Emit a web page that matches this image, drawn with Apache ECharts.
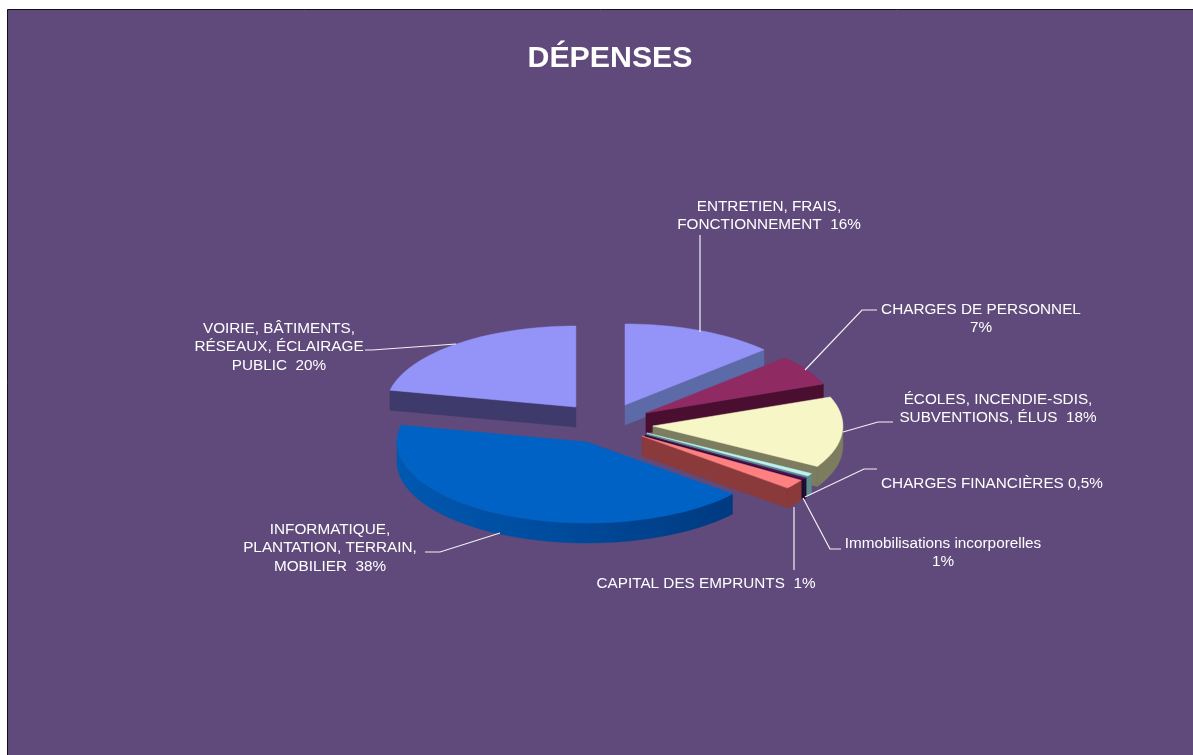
<!DOCTYPE html>
<html>
<head>
<meta charset="utf-8">
<style>html,body{margin:0;padding:0;background:#fff}#chart{width:1193px;height:755px}</style>
<script src="https://cdn.jsdelivr.net/npm/echarts@6/dist/echarts.min.js"></script>
</head>
<body>
<div id="chart"></div>
<script>
// Data
var categories = ['ENTRETIEN, FRAIS, FONCTIONNEMENT', 'CHARGES DE PERSONNEL', 'ÉCOLES, INCENDIE-SDIS, SUBVENTIONS, ÉLUS', 'CHARGES FINANCIÈRES', 'Immobilisations incorporelles', 'CAPITAL DES EMPRUNTS', 'INFORMATIQUE, PLANTATION, TERRAIN, MOBILIER', 'VOIRIE, BÂTIMENTS, RÉSEAUX, ÉCLAIRAGE PUBLIC'];
// shares of the disc as actually drawn in the picture (the printed labels differ)
var drawnShares = [13.06, 6.11, 14.17, 0.56, 0.28, 1.94, 42.22, 21.67];
var labelLines = [
  ['ENTRETIEN, FRAIS,', 'FONCTIONNEMENT  16%'],
  ['CHARGES DE PERSONNEL', '7%'],
  ['ÉCOLES, INCENDIE-SDIS,', 'SUBVENTIONS, ÉLUS  18%'],
  ['CHARGES FINANCIÈRES 0,5%'],
  ['Immobilisations incorporelles', '1%'],
  ['CAPITAL DES EMPRUNTS  1%'],
  ['INFORMATIQUE,', 'PLANTATION, TERRAIN,', 'MOBILIER  38%'],
  ['VOIRIE, BÂTIMENTS,', 'RÉSEAUX, ÉCLAIRAGE', 'PUBLIC  20%']
];

// Styles and layout
var topColors = ['#9494F8', '#8F2A62', '#F6F6C6', '#BDF2F2', '#5A0A5A', '#FF8080', '#0062C4', '#9494F8'];
var wallColors = ['#5C6AA8', '#4A0F30', '#7C7C5E', '#5C8C8C', '#1E0A30', '#8A3A3A', null, '#3E3A6C'];
var explodeX = [0.317, 0.279, 0.274, 0.282, 0.275, 0.268, 0.168, 0.21];
var explodeY = [0.202, 0.163, 0.94, 0.312, 0.345, 0.332, 0.302, 0.206];
var CX = 601, CY = 420, RX = 190, RY = 81, DEPTH = 20;
var labelCenters = [[769, 206.5], [981, 309.5], [998, 399.5], [992, 483.5], [943, 543.5], [706, 583.5], [330, 529.5], [279, 328.5]];
var leaderPaths = [
  [[700, 235], [700, 332]],
  [[877, 310], [862, 310], [805, 370]],
  [[893, 422], [878, 422], [843, 432]],
  [[877, 469], [864, 469], [805, 497]],
  [[841, 549], [830, 549], [803, 498]],
  [[794, 507], [794, 570]],
  [[500, 533], [440, 552], [425, 552]],
  [[456, 344], [372, 350], [365, 350]]
];

var total = drawnShares.reduce(function (a, b) { return a + b; }, 0);
var starts = [], acc = 0;
drawnShares.forEach(function (v) { starts.push(acc); acc += v; });

function rad(d) { return d * Math.PI / 180; }

function renderSlice(params, api) {
  var i = params.dataIndex;
  var a0 = starts[i] / total * 360;
  var a1 = (starts[i] + api.value(0)) / total * 360;
  var mid = rad((a0 + a1) / 2);
  var ax = CX + explodeX[i] * RX * Math.sin(mid);
  var ay = CY - explodeY[i] * RY * Math.cos(mid);
  function pt(a, dz) {
    return [ax + RX * Math.sin(rad(a)), ay - RY * Math.cos(rad(a)) + (dz || 0)];
  }
  function arc(from, to, dz) {
    var pts = [], n = Math.max(2, Math.ceil(Math.abs(to - from) / 2));
    for (var k = 0; k <= n; k++) pts.push(pt(from + (to - from) * k / n, dz));
    return pts;
  }
  var wall = wallColors[i] || new echarts.graphic.LinearGradient(0, 0, 1, 0, [
    { offset: 0, color: '#0058B0' }, { offset: 0.45, color: '#004C9E' }, { offset: 1, color: '#003A80' }
  ]);
  var children = [];
  function poly(points, fill) {
    children.push({ type: 'polygon', shape: { points: points }, style: { fill: fill, stroke: fill, lineWidth: 0.5 } });
  }
  // outer rim, front half only
  var r0 = Math.max(a0, 90), r1 = Math.min(a1, 270);
  if (r1 > r0) poly(arc(r0, r1, 0).concat(arc(r1, r0, DEPTH)), wall);
  // cut faces that look towards the viewer
  if (a0 > 180 && a0 < 360) {
    var s = pt(a0);
    poly([[ax, ay], s, [s[0], s[1] + DEPTH], [ax, ay + DEPTH]], wall);
  }
  if (a1 > 0 && a1 < 180) {
    var e = pt(a1);
    poly([[ax, ay], e, [e[0], e[1] + DEPTH], [ax, ay + DEPTH]], wall);
  }
  // top surface
  poly([[ax, ay]].concat(arc(a0, a1, 0)), topColors[i]);
  return { type: 'group', children: children };
}

var graphics = [{
  type: 'rect', silent: true, z: -10,
  shape: { x: 7.5, y: 9.5, width: 1190, height: 750 },
  style: { fill: '#604A7B', stroke: '#111111', lineWidth: 1 }
}];
leaderPaths.forEach(function (p) {
  graphics.push({ type: 'polyline', silent: true, z: 20, shape: { points: p },
    style: { fill: null, stroke: '#F2F0F6', lineWidth: 1.2 } });
});
labelLines.forEach(function (lines, i) {
  lines.forEach(function (t, j) {
    graphics.push({ type: 'text', silent: true, z: 21, x: labelCenters[i][0], y: labelCenters[i][1] + j * 18.5,
      style: { text: t, fill: '#FFFFFF', font: '15.3px "Liberation Sans", Arial, sans-serif', textAlign: 'center', textVerticalAlign: 'middle' } });
  });
});

var chart = echarts.init(document.getElementById('chart'), null, { renderer: 'canvas' });
chart.setOption({
  animation: false,
  backgroundColor: '#FFFFFF',
  title: {
    text: 'DÉPENSES', left: 605, top: 39, textAlign: 'center',
    textStyle: { color: '#FFFFFF', fontSize: 30.3, fontWeight: 'bold', fontFamily: '"Liberation Sans", Arial, sans-serif' }
  },
  graphic: graphics,
  series: [{
    type: 'custom',
    coordinateSystem: 'none',
    silent: true,
    clip: false,
    renderItem: renderSlice,
    data: drawnShares.map(function (v, i) { return { name: categories[i], value: [v] }; })
  }]
});
</script>
</body>
</html>
